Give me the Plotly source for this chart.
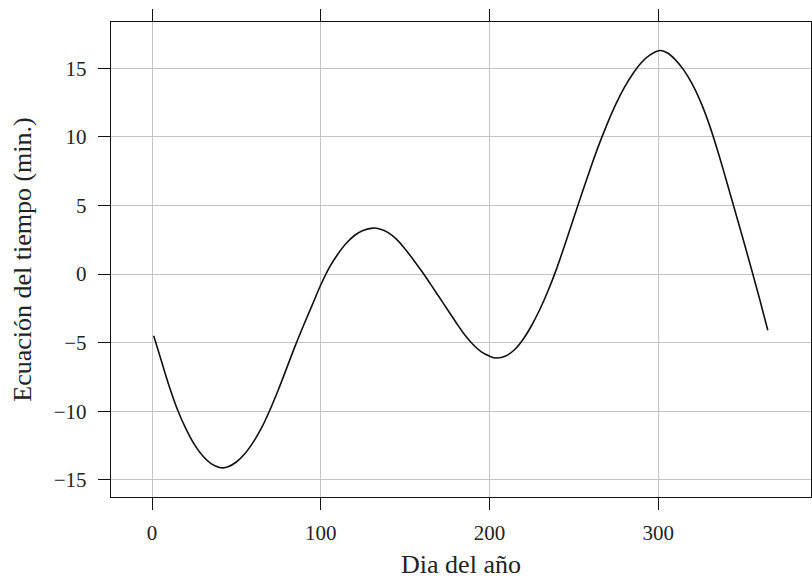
import plotly.graph_objects as go

# Day of year and equation-of-time values (minutes)
dias = [1, 5, 10, 15, 20, 25, 30, 35, 40, 42, 45, 50, 55, 60, 65, 70, 75, 80, 85, 90,
        95, 100, 105, 110, 115, 120, 125, 131, 135, 140, 145, 150, 155, 160, 165,
        170, 175, 180, 185, 190, 195, 200, 204, 210, 215, 220, 225, 230, 235, 240,
        245, 250, 255, 260, 265, 270, 275, 280, 285, 290, 295, 301, 305, 310, 315,
        320, 325, 330, 335, 340, 345, 350, 355, 360, 365]
ecuacion = [-4.5, -6.1, -8.1, -9.85, -11.25, -12.4, -13.25, -13.82, -14.1, -14.13,
            -14.05, -13.7, -13.1, -12.25, -11.2, -9.88, -8.4, -6.8, -5.2, -3.7,
            -2.25, -0.8, 0.45, 1.42, 2.22, 2.81, 3.18, 3.35, 3.28, 3.02, 2.53, 1.83,
            1.03, 0.18, -0.72, -1.64, -2.57, -3.49, -4.37, -5.1, -5.65, -5.98, -6.12,
            -5.95, -5.5, -4.75, -3.75, -2.55, -1.15, 0.45, 2.25, 4.1, 5.95, 7.75, 9.45,
            11.0, 12.4, 13.6, 14.6, 15.4, 15.95, 16.29, 16.15, 15.65, 14.9, 13.9,
            12.6, 11.0, 9.1, 7.0, 4.85, 2.7, 0.5, -1.75, -4.1]

x_ticks = [0, 100, 200, 300]
y_ticks = [-15, -10, -5, 0, 5, 10, 15]

FONT = "Liberation Serif"

fig = go.Figure()
fig.add_trace(go.Scatter(
    x=dias, y=ecuacion, mode="lines",
    line=dict(color="#111111", width=1.6, shape="spline", smoothing=1.0),
    showlegend=False, hoverinfo="skip",
))

axis_common = dict(
    showline=True, linecolor="#111111", linewidth=1.4,
    showgrid=True, gridcolor="#c4c4c4", gridwidth=1.3,
    zeroline=False,
    ticks="outside", ticklen=12, tickwidth=1.4, tickcolor="#111111",
    tickfont=dict(family=FONT, size=21, color="#222222"),
)

fig.update_layout(
    width=812, height=580,
    margin=dict(l=111, r=1, t=22, b=83),
    paper_bgcolor="white", plot_bgcolor="white",
    xaxis=dict(
        **axis_common,
        range=[-24.3, 390.6],
        tickvals=x_ticks, ticktext=[str(v) for v in x_ticks],
        mirror="ticks",
        ticklabelstandoff=5,
        title=dict(text="Dia del año", font=dict(family=FONT, size=26, color="#222222"), standoff=10),
    ),
    yaxis=dict(
        **axis_common,
        range=[-16.25, 18.37],
        tickvals=y_ticks, ticktext=[str(v) if v >= 0 else "\u2212" + str(-v) for v in y_ticks],
        mirror=True,
        ticklabelstandoff=7,
        title=dict(text="Ecuación del tiempo (min.)", font=dict(family=FONT, size=26, color="#222222"), standoff=14),
    ),
)

fig.write_html("out.html")
